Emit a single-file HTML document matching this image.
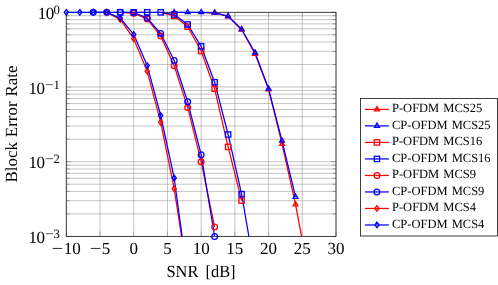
<!DOCTYPE html><html><head><meta charset="utf-8"><title>BLER vs SNR</title><style>
html,body{margin:0;padding:0;background:#fff}
body{width:498px;height:285px;position:relative;overflow:hidden;text-rendering:geometricPrecision;font-family:"Liberation Serif",serif;color:#000}
.t{position:absolute;white-space:nowrap;line-height:1;font-size:17px}
.xt{transform:translateX(-50%);top:239.6px}
.m{display:inline-block;transform:scaleX(1.22);margin:0 1.3px 0 0.9px}
.yt{transform:translate(-100%,0)}
.yt sup{font-size:12.7px;position:relative;top:-5.2px;vertical-align:baseline;line-height:0}
.yt sup .m{margin:0 1.1px 0 0.9px}
.lg{position:absolute;white-space:nowrap;line-height:1;font-size:12.5px;left:392px;word-spacing:1.0px}

</style></head><body>
<svg width="498" height="285" viewBox="0 0 498 285" style="position:absolute;left:0;top:0">
<rect width="498" height="285" fill="#fff"/>
<path d="M66.30 12.3V236.4M100.01 12.3V236.4M133.72 12.3V236.4M167.44 12.3V236.4M201.15 12.3V236.4M234.86 12.3V236.4M268.57 12.3V236.4M302.29 12.3V236.4M336.00 12.3V236.4M66.3 87.00H336.0M66.3 64.51H336.0M66.3 51.36H336.0M66.3 42.03H336.0M66.3 34.79H336.0M66.3 28.87H336.0M66.3 23.87H336.0M66.3 19.54H336.0M66.3 15.72H336.0M66.3 161.70H336.0M66.3 139.21H336.0M66.3 126.06H336.0M66.3 116.73H336.0M66.3 109.49H336.0M66.3 103.57H336.0M66.3 98.57H336.0M66.3 94.24H336.0M66.3 90.42H336.0M66.3 236.40H336.0M66.3 213.91H336.0M66.3 200.76H336.0M66.3 191.43H336.0M66.3 184.19H336.0M66.3 178.27H336.0M66.3 173.27H336.0M66.3 168.94H336.0M66.3 165.12H336.0M66.3 12.30H336.0" stroke="#9a9a9a" stroke-width="0.58" fill="none"/>
<path d="M66.30 236.4v-5.0M66.30 12.3v5.0M100.01 236.4v-5.0M100.01 12.3v5.0M133.72 236.4v-5.0M133.72 12.3v5.0M167.44 236.4v-5.0M167.44 12.3v5.0M201.15 236.4v-5.0M201.15 12.3v5.0M234.86 236.4v-5.0M234.86 12.3v5.0M268.57 236.4v-5.0M268.57 12.3v5.0M302.29 236.4v-5.0M302.29 12.3v5.0M336.00 236.4v-5.0M336.00 12.3v5.0" stroke="#6a6a6a" stroke-width="0.4" fill="none"/>
<path d="M66.3 12.30h5.0M336.0 12.30h-5.0M66.3 87.00h5.0M336.0 87.00h-5.0M66.3 161.70h5.0M336.0 161.70h-5.0M66.3 236.40h5.0M336.0 236.40h-5.0M66.3 64.51h3.4M336.0 64.51h-3.4M66.3 51.36h3.4M336.0 51.36h-3.4M66.3 42.03h3.4M336.0 42.03h-3.4M66.3 34.79h3.4M336.0 34.79h-3.4M66.3 28.87h3.4M336.0 28.87h-3.4M66.3 23.87h3.4M336.0 23.87h-3.4M66.3 19.54h3.4M336.0 19.54h-3.4M66.3 15.72h3.4M336.0 15.72h-3.4M66.3 139.21h3.4M336.0 139.21h-3.4M66.3 126.06h3.4M336.0 126.06h-3.4M66.3 116.73h3.4M336.0 116.73h-3.4M66.3 109.49h3.4M336.0 109.49h-3.4M66.3 103.57h3.4M336.0 103.57h-3.4M66.3 98.57h3.4M336.0 98.57h-3.4M66.3 94.24h3.4M336.0 94.24h-3.4M66.3 90.42h3.4M336.0 90.42h-3.4M66.3 213.91h3.4M336.0 213.91h-3.4M66.3 200.76h3.4M336.0 200.76h-3.4M66.3 191.43h3.4M336.0 191.43h-3.4M66.3 184.19h3.4M336.0 184.19h-3.4M66.3 178.27h3.4M336.0 178.27h-3.4M66.3 173.27h3.4M336.0 173.27h-3.4M66.3 168.94h3.4M336.0 168.94h-3.4M66.3 165.12h3.4M336.0 165.12h-3.4" stroke="#505050" stroke-width="0.45" fill="none"/>
<rect x="66.3" y="12.3" width="269.70" height="224.10" fill="none" stroke="#1c1c1c" stroke-width="0.75"/>
<defs><clipPath id="c"><rect x="66.3" y="10.3" width="269.70" height="226.10"/></clipPath></defs>
<path d="M201.15 12.30L214.63 12.80L228.12 16.40L241.61 29.70L255.09 54.00L268.57 89.40L282.06 144.00L295.54 204.40L309.03 276.30" fill="none" stroke="#ff0000" stroke-width="1.25" stroke-linejoin="round" clip-path="url(#c)"/>
<path d="M174.18 12.30L187.66 12.30L201.15 12.30L214.63 12.80L228.12 16.20L241.61 29.30L255.09 52.70L268.57 88.80L282.06 140.80L295.54 196.90" fill="none" stroke="#0000ff" stroke-width="1.25" stroke-linejoin="round" clip-path="url(#c)"/>
<path d="M160.69 12.30L174.18 15.80L187.66 26.70L201.15 51.00L214.63 88.80L228.12 146.90L241.61 200.60" fill="none" stroke="#ff0000" stroke-width="1.25" stroke-linejoin="round" clip-path="url(#c)"/>
<path d="M120.24 12.30L133.72 12.30L147.21 12.30L160.69 12.30L174.18 14.50L187.66 24.50L201.15 46.30L214.63 82.20L228.12 134.50L241.61 194.20L255.09 272.50" fill="none" stroke="#0000ff" stroke-width="1.25" stroke-linejoin="round" clip-path="url(#c)"/>
<path d="M120.24 12.30L133.72 13.30L147.21 19.10L160.69 36.00L174.18 65.80L187.66 107.40L201.15 161.70L214.63 227.00" fill="none" stroke="#ff0000" stroke-width="1.25" stroke-linejoin="round" clip-path="url(#c)"/>
<path d="M93.27 12.30L106.75 12.30L120.24 12.30L133.72 12.50L147.21 18.10L160.69 33.50L174.18 60.50L187.66 101.80L201.15 154.70L214.63 236.50" fill="none" stroke="#0000ff" stroke-width="1.25" stroke-linejoin="round" clip-path="url(#c)"/>
<path d="M93.27 12.30L106.75 12.50L120.24 19.40L133.72 38.70L147.21 71.30L160.69 122.30L174.18 188.70L187.66 276.00" fill="none" stroke="#ff0000" stroke-width="1.25" stroke-linejoin="round" clip-path="url(#c)"/>
<path d="M66.30 12.30L79.78 12.30L93.27 12.30L106.75 12.40L120.24 18.10L133.72 34.40L147.21 65.60L160.69 115.50L174.18 178.00L187.66 276.80" fill="none" stroke="#0000ff" stroke-width="1.25" stroke-linejoin="round" clip-path="url(#c)"/>
<path d="M214.63 10.00L217.06 14.20L212.21 14.20Z" fill="none" stroke="#ff0000" stroke-width="1.3"/>
<path d="M228.12 13.60L230.55 17.80L225.69 17.80Z" fill="none" stroke="#ff0000" stroke-width="1.3"/>
<path d="M241.61 26.90L244.03 31.10L239.18 31.10Z" fill="none" stroke="#ff0000" stroke-width="1.3"/>
<path d="M255.09 51.20L257.52 55.40L252.66 55.40Z" fill="none" stroke="#ff0000" stroke-width="1.3"/>
<path d="M268.57 86.60L271.00 90.80L266.15 90.80Z" fill="none" stroke="#ff0000" stroke-width="1.3"/>
<path d="M282.06 141.20L284.49 145.40L279.63 145.40Z" fill="none" stroke="#ff0000" stroke-width="1.3"/>
<path d="M295.54 201.60L297.97 205.80L293.12 205.80Z" fill="none" stroke="#ff0000" stroke-width="1.3"/>
<path d="M174.18 9.50L176.61 13.70L171.75 13.70Z" fill="none" stroke="#0000ff" stroke-width="1.3"/>
<path d="M187.66 9.50L190.09 13.70L185.24 13.70Z" fill="none" stroke="#0000ff" stroke-width="1.3"/>
<path d="M201.15 9.50L203.58 13.70L198.72 13.70Z" fill="none" stroke="#0000ff" stroke-width="1.3"/>
<path d="M214.63 10.00L217.06 14.20L212.21 14.20Z" fill="none" stroke="#0000ff" stroke-width="1.3"/>
<path d="M228.12 13.40L230.55 17.60L225.69 17.60Z" fill="none" stroke="#0000ff" stroke-width="1.3"/>
<path d="M241.61 26.50L244.03 30.70L239.18 30.70Z" fill="none" stroke="#0000ff" stroke-width="1.3"/>
<path d="M255.09 49.90L257.52 54.10L252.66 54.10Z" fill="none" stroke="#0000ff" stroke-width="1.3"/>
<path d="M268.57 86.00L271.00 90.20L266.15 90.20Z" fill="none" stroke="#0000ff" stroke-width="1.3"/>
<path d="M282.06 138.00L284.49 142.20L279.63 142.20Z" fill="none" stroke="#0000ff" stroke-width="1.3"/>
<path d="M295.54 194.10L297.97 198.30L293.12 198.30Z" fill="none" stroke="#0000ff" stroke-width="1.3"/>
<rect x="171.53" y="13.14" width="5.31" height="5.31" fill="none" stroke="#ff0000" stroke-width="1.3"/>
<rect x="185.01" y="24.04" width="5.31" height="5.31" fill="none" stroke="#ff0000" stroke-width="1.3"/>
<rect x="198.49" y="48.34" width="5.31" height="5.31" fill="none" stroke="#ff0000" stroke-width="1.3"/>
<rect x="211.98" y="86.14" width="5.31" height="5.31" fill="none" stroke="#ff0000" stroke-width="1.3"/>
<rect x="225.47" y="144.25" width="5.31" height="5.31" fill="none" stroke="#ff0000" stroke-width="1.3"/>
<rect x="238.95" y="197.94" width="5.31" height="5.31" fill="none" stroke="#ff0000" stroke-width="1.3"/>
<rect x="117.58" y="9.64" width="5.31" height="5.31" fill="none" stroke="#0000ff" stroke-width="1.3"/>
<rect x="131.07" y="9.64" width="5.31" height="5.31" fill="none" stroke="#0000ff" stroke-width="1.3"/>
<rect x="144.55" y="9.64" width="5.31" height="5.31" fill="none" stroke="#0000ff" stroke-width="1.3"/>
<rect x="158.04" y="9.64" width="5.31" height="5.31" fill="none" stroke="#0000ff" stroke-width="1.3"/>
<rect x="171.53" y="11.84" width="5.31" height="5.31" fill="none" stroke="#0000ff" stroke-width="1.3"/>
<rect x="185.01" y="21.84" width="5.31" height="5.31" fill="none" stroke="#0000ff" stroke-width="1.3"/>
<rect x="198.49" y="43.64" width="5.31" height="5.31" fill="none" stroke="#0000ff" stroke-width="1.3"/>
<rect x="211.98" y="79.55" width="5.31" height="5.31" fill="none" stroke="#0000ff" stroke-width="1.3"/>
<rect x="225.47" y="131.84" width="5.31" height="5.31" fill="none" stroke="#0000ff" stroke-width="1.3"/>
<rect x="238.95" y="191.54" width="5.31" height="5.31" fill="none" stroke="#0000ff" stroke-width="1.3"/>
<circle cx="133.72" cy="13.30" r="2.86" fill="none" stroke="#ff0000" stroke-width="1.3"/>
<circle cx="147.21" cy="19.10" r="2.86" fill="none" stroke="#ff0000" stroke-width="1.3"/>
<circle cx="160.69" cy="36.00" r="2.86" fill="none" stroke="#ff0000" stroke-width="1.3"/>
<circle cx="174.18" cy="65.80" r="2.86" fill="none" stroke="#ff0000" stroke-width="1.3"/>
<circle cx="187.66" cy="107.40" r="2.86" fill="none" stroke="#ff0000" stroke-width="1.3"/>
<circle cx="201.15" cy="161.70" r="2.86" fill="none" stroke="#ff0000" stroke-width="1.3"/>
<circle cx="214.63" cy="227.00" r="2.86" fill="none" stroke="#ff0000" stroke-width="1.3"/>
<circle cx="93.27" cy="12.30" r="2.86" fill="none" stroke="#0000ff" stroke-width="1.3"/>
<circle cx="106.75" cy="12.30" r="2.86" fill="none" stroke="#0000ff" stroke-width="1.3"/>
<circle cx="120.24" cy="12.30" r="2.86" fill="none" stroke="#0000ff" stroke-width="1.3"/>
<circle cx="133.72" cy="12.50" r="2.86" fill="none" stroke="#0000ff" stroke-width="1.3"/>
<circle cx="147.21" cy="18.10" r="2.86" fill="none" stroke="#0000ff" stroke-width="1.3"/>
<circle cx="160.69" cy="33.50" r="2.86" fill="none" stroke="#0000ff" stroke-width="1.3"/>
<circle cx="174.18" cy="60.50" r="2.86" fill="none" stroke="#0000ff" stroke-width="1.3"/>
<circle cx="187.66" cy="101.80" r="2.86" fill="none" stroke="#0000ff" stroke-width="1.3"/>
<circle cx="201.15" cy="154.70" r="2.86" fill="none" stroke="#0000ff" stroke-width="1.3"/>
<circle cx="214.63" cy="236.50" r="2.86" fill="none" stroke="#0000ff" stroke-width="1.3"/>
<path d="M106.75 9.70L108.86 12.50L106.75 15.30L104.65 12.50Z" fill="none" stroke="#ff0000" stroke-width="1.3"/>
<path d="M120.24 16.60L122.34 19.40L120.24 22.20L118.14 19.40Z" fill="none" stroke="#ff0000" stroke-width="1.3"/>
<path d="M133.72 35.90L135.83 38.70L133.72 41.50L131.62 38.70Z" fill="none" stroke="#ff0000" stroke-width="1.3"/>
<path d="M147.21 68.50L149.31 71.30L147.21 74.10L145.11 71.30Z" fill="none" stroke="#ff0000" stroke-width="1.3"/>
<path d="M160.69 119.50L162.80 122.30L160.69 125.10L158.59 122.30Z" fill="none" stroke="#ff0000" stroke-width="1.3"/>
<path d="M174.18 185.90L176.28 188.70L174.18 191.50L172.08 188.70Z" fill="none" stroke="#ff0000" stroke-width="1.3"/>
<path d="M66.30 9.50L68.40 12.30L66.30 15.10L64.20 12.30Z" fill="none" stroke="#0000ff" stroke-width="1.3"/>
<path d="M79.78 9.50L81.89 12.30L79.78 15.10L77.68 12.30Z" fill="none" stroke="#0000ff" stroke-width="1.3"/>
<path d="M93.27 9.50L95.37 12.30L93.27 15.10L91.17 12.30Z" fill="none" stroke="#0000ff" stroke-width="1.3"/>
<path d="M106.75 9.60L108.86 12.40L106.75 15.20L104.65 12.40Z" fill="none" stroke="#0000ff" stroke-width="1.3"/>
<path d="M120.24 15.30L122.34 18.10L120.24 20.90L118.14 18.10Z" fill="none" stroke="#0000ff" stroke-width="1.3"/>
<path d="M133.72 31.60L135.83 34.40L133.72 37.20L131.62 34.40Z" fill="none" stroke="#0000ff" stroke-width="1.3"/>
<path d="M147.21 62.80L149.31 65.60L147.21 68.40L145.11 65.60Z" fill="none" stroke="#0000ff" stroke-width="1.3"/>
<path d="M160.69 112.70L162.80 115.50L160.69 118.30L158.59 115.50Z" fill="none" stroke="#0000ff" stroke-width="1.3"/>
<path d="M174.18 175.20L176.28 178.00L174.18 180.80L172.08 178.00Z" fill="none" stroke="#0000ff" stroke-width="1.3"/>
<rect x="360.5" y="98.5" width="137.00" height="137.50" fill="#fff" stroke="#000" stroke-width="0.75"/>
<path d="M365 109.40H388.9" stroke="#ff0000" stroke-width="1.25" fill="none"/>
<path d="M376.95 106.60L379.38 110.80L374.52 110.80Z" fill="none" stroke="#ff0000" stroke-width="1.3"/>
<path d="M365 125.91H388.9" stroke="#0000ff" stroke-width="1.25" fill="none"/>
<path d="M376.95 123.11L379.38 127.31L374.52 127.31Z" fill="none" stroke="#0000ff" stroke-width="1.3"/>
<path d="M365 142.42H388.9" stroke="#ff0000" stroke-width="1.25" fill="none"/>
<rect x="374.30" y="139.77" width="5.31" height="5.31" fill="none" stroke="#ff0000" stroke-width="1.3"/>
<path d="M365 158.93H388.9" stroke="#0000ff" stroke-width="1.25" fill="none"/>
<rect x="374.30" y="156.28" width="5.31" height="5.31" fill="none" stroke="#0000ff" stroke-width="1.3"/>
<path d="M365 175.44H388.9" stroke="#ff0000" stroke-width="1.25" fill="none"/>
<circle cx="376.95" cy="175.44" r="2.86" fill="none" stroke="#ff0000" stroke-width="1.3"/>
<path d="M365 191.95H388.9" stroke="#0000ff" stroke-width="1.25" fill="none"/>
<circle cx="376.95" cy="191.95" r="2.86" fill="none" stroke="#0000ff" stroke-width="1.3"/>
<path d="M365 208.46H388.9" stroke="#ff0000" stroke-width="1.25" fill="none"/>
<path d="M376.95 205.66L379.05 208.46L376.95 211.26L374.85 208.46Z" fill="none" stroke="#ff0000" stroke-width="1.3"/>
<path d="M365 224.97H388.9" stroke="#0000ff" stroke-width="1.25" fill="none"/>
<path d="M376.95 222.17L379.05 224.97L376.95 227.77L374.85 224.97Z" fill="none" stroke="#0000ff" stroke-width="1.3"/>
</svg>
<div id="txt" style="position:absolute;left:0;top:0;width:498px;height:285px;will-change:transform;opacity:0.999">
<div class="t xt" style="left:66.30px"><span class="m">−</span>10</div>
<div class="t xt" style="left:100.01px"><span class="m">−</span>5</div>
<div class="t xt" style="left:133.72px">0</div>
<div class="t xt" style="left:167.44px">5</div>
<div class="t xt" style="left:201.15px">10</div>
<div class="t xt" style="left:234.86px">15</div>
<div class="t xt" style="left:268.57px">20</div>
<div class="t xt" style="left:302.29px">25</div>
<div class="t xt" style="left:336.00px">30</div>
<div class="t yt" style="left:59.9px;top:5.00px"><span style="letter-spacing:-0.6px">10</span><sup>0</sup></div>
<div class="t yt" style="left:59.9px;top:79.70px"><span style="letter-spacing:-0.6px">10</span><sup><span class="m">−</span>1</sup></div>
<div class="t yt" style="left:59.9px;top:154.40px"><span style="letter-spacing:-0.6px">10</span><sup><span class="m">−</span>2</sup></div>
<div class="t yt" style="left:59.9px;top:229.10px"><span style="letter-spacing:-0.6px">10</span><sup><span class="m">−</span>3</sup></div>
<div class="t" style="left:201.2px;top:263.3px;transform:translateX(-50%) scaleX(0.965);font-size:17px;word-spacing:3.2px">SNR [dB]</div>
<div class="t" style="left:11.2px;top:124.3px;transform:translate(-50%,-50%) rotate(-90deg);font-size:17px;word-spacing:0.5px">Block Error Rate</div>
<div class="lg" style="top:102.35px">P-OFDM MCS25</div>
<div class="lg" style="top:118.86px">CP-OFDM MCS25</div>
<div class="lg" style="top:135.37px">P-OFDM MCS16</div>
<div class="lg" style="top:151.88px">CP-OFDM MCS16</div>
<div class="lg" style="top:168.39px">P-OFDM MCS9</div>
<div class="lg" style="top:184.90px">CP-OFDM MCS9</div>
<div class="lg" style="top:201.41px">P-OFDM MCS4</div>
<div class="lg" style="top:217.92px">CP-OFDM MCS4</div>
</div></body></html>
